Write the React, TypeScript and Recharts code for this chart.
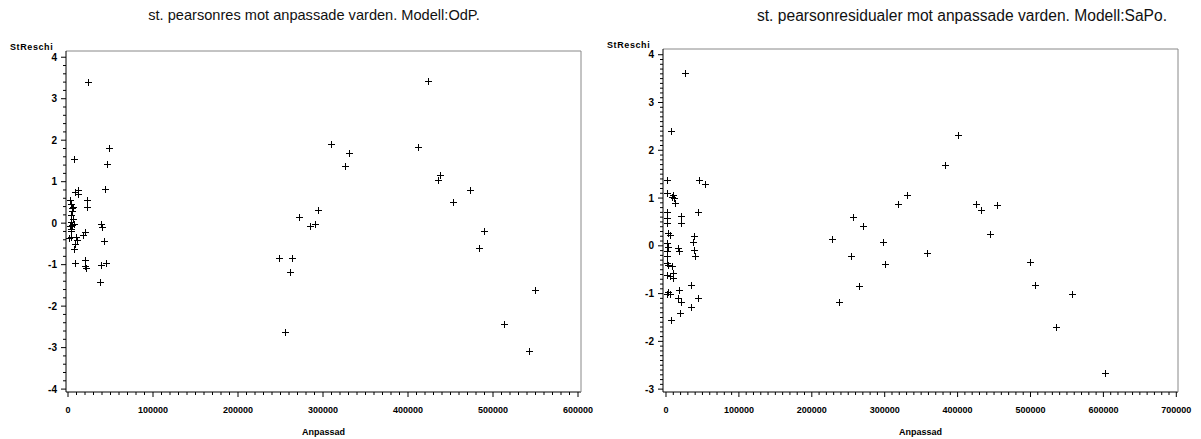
import React from 'react';
import { ScatterChart, Scatter, XAxis, YAxis } from 'recharts';

// ---- Data: left model (OdP) ----
const leftFitted = [
  2700, 3200, 4300, 4700, 3500, 5500, 3200, 7000, 2500, 4000, 3000, 3500, 9400, 11000, 8200, 7000, 7800, 1500, 5000, 6000,
  7600, 8600, 12100, 11800, 22000, 22000, 23900, 48600, 45900, 43500, 38800, 40400, 20400, 18000, 42700, 19600, 20000, 21200, 38500, 44700, 37600,
  423500, 309000, 330600, 326000, 411800, 438000, 435300, 473300, 453300, 489800, 483100, 549400, 513300, 542400,
  272100, 294500, 284300, 290600, 247800, 263500, 261600, 255300,
];
const leftResid = [
  0.55, 0.45, 0.37, 0.30, 0.20, 0.10, 0.03, -0.01, -0.08, -0.13, -0.18, -0.33, -0.34, -0.41, -0.51, -0.63, -0.95, -0.36, -0.05, 0.40,
  1.54, 0.74, 0.81, 0.70, 0.57, 0.39, 3.40, 1.81, 1.43, 0.83, -0.03, -0.10, -0.22, -0.28, -0.43, -0.88, -1.03, -1.07, -1.00, -0.97, -1.43,
  3.42, 1.92, 1.69, 1.37, 1.83, 1.17, 1.04, 0.79, 0.51, -0.19, -0.61, -1.62, -2.43, -3.08,
  0.15, 0.31, -0.08, -0.03, -0.84, -0.84, -1.18, -2.63,
];

// ---- Data: right model (SaPo) ----
const rightFitted = [
  25600, 6600, 1400, 45700, 53100, 1800, 10000, 11000, 8200, 11900, 43500, 2000, 2000, 2000, 21000, 21000, 3200, 6000, 38400, 36600,
  2000, 3200, 16000, 17800, 38800, 39800, 2000, 2000, 1000, 3200, 8400, 9200, 2000, 5500, 10000, 34700, 17800, 3200, 2000, 5000,
  16900, 20200, 43500, 33900, 19200, 6400,
  400500, 382700, 330600, 317800, 425700, 432100, 454500, 257000, 269800, 227700, 444400, 297200, 253300, 358500, 300400, 499800,
  264700, 505700, 237700, 556500, 535000, 602600,
];
const rightResid = [
  3.62, 2.40, 1.37, 1.37, 1.29, 1.10, 1.06, 1.00, 1.03, 0.89, 0.71, 0.70, 0.58, 0.48, 0.63, 0.48, 0.26, 0.22, 0.20, 0.07,
  0.06, -0.03, -0.04, -0.10, -0.08, -0.21, -0.10, -0.21, -0.36, -0.40, -0.43, -0.56, -0.61, -0.64, -0.68, -0.83, -0.93, -0.97, -1.00, -1.00,
  -1.10, -1.17, -1.10, -1.29, -1.40, -1.55,
  2.33, 1.70, 1.07, 0.88, 0.88, 0.76, 0.85, 0.60, 0.42, 0.15, 0.25, 0.07, -0.21, -0.15, -0.38, -0.34,
  -0.85, -0.83, -1.17, -1.01, -1.70, -2.66,
];

// ---- Tick labels ----
const leftXMajor = [0, 100000, 200000, 300000, 400000, 500000, 600000];
const leftYMajor = [-4, -3, -2, -1, 0, 1, 2, 3, 4];
const rightXMajor = [0, 100000, 200000, 300000, 400000, 500000, 600000, 700000];
const rightYMajor = [-3, -2, -1, 0, 1, 2, 3, 4];

const titles = [
  'st. pearsonres mot anpassade varden. Modell:OdP.',
  'st. pearsonresidualer mot anpassade varden. Modell:SaPo.',
];
const xLabel = 'Anpassad';
const yLabel = 'StReschi';

const withMinors = (majors: number[], n: number) => {
  const out: number[] = [];
  for (let i = 0; i < majors.length; i++) {
    out.push(majors[i]);
    if (i < majors.length - 1) {
      const step = (majors[i + 1] - majors[i]) / n;
      for (let k = 1; k < n; k++) out.push(+(majors[i] + k * step).toFixed(6));
    }
  }
  return out;
};

const isMajor = (v: number, majors: number[]) => majors.some((m) => Math.abs(m - v) < 1e-6);

const tickFont = 'Liberation Sans, Arial, sans-serif';

const makeXTick = (majors: number[]) => (props: any) => {
  const { x, y, payload } = props;
  const major = isMajor(payload.value, majors);
  return (
    <g>
      <line x1={x} x2={x} y1={y} y2={y + (major ? 5 : 3)} stroke="#000" strokeWidth={1} />
      {major && (
        <text x={x} y={y + 21} textAnchor="middle" fontSize={9} fontWeight="bold" fontFamily={tickFont} fill="#000">
          {payload.value}
        </text>
      )}
    </g>
  );
};

const makeYTick = (majors: number[]) => (props: any) => {
  const { x, y, payload } = props;
  const major = isMajor(payload.value, majors);
  return (
    <g>
      <line x1={x} x2={x - (major ? 5 : 3)} y1={y} y2={y} stroke="#000" strokeWidth={1} />
      {major && (
        <text x={x - 9} y={y + 3.5} textAnchor="end" fontSize={10} fontWeight="bold" fontFamily={tickFont} fill="#000">
          {payload.value}
        </text>
      )}
    </g>
  );
};

const Plus = (props: any) => {
  const { cx, cy } = props;
  if (cx == null || cy == null) return null;
  const x = Math.round(cx) + 0.5;
  const y = Math.round(cy) + 0.5;
  return <path d={`M${x - 3.5},${y}H${x + 3.5}M${x},${y - 3.5}V${y + 3.5}`} stroke="#000" strokeWidth={1} fill="none" />;
};

type PanelProps = {
  left: number;
  width: number;
  marginLeft: number;
  marginRight: number;
  marginTop: number;
  xs: number[];
  ys: number[];
  xDomain: [number, number];
  yDomain: [number, number];
  xMajor: number[];
  yMajor: number[];
  yMinorN: number;
};

const Panel = (p: PanelProps) => {
  const data = p.xs.map((x, i) => ({ x, y: p.ys[i] }));
  const xTicks = withMinors(p.xMajor, 10);
  const yTicks = withMinors(p.yMajor, p.yMinorN);
  return (
    <div style={{ position: 'absolute', left: p.left, top: 0 }}>
      <ScatterChart
        width={p.width}
        height={439}
        margin={{ top: p.marginTop - 1, right: p.marginRight - 1, bottom: 17, left: p.marginLeft }}
      >
        <XAxis
          xAxisId={0}
          type="number"
          dataKey="x"
          domain={p.xDomain}
          ticks={xTicks}
          interval={0}
          tickSize={0}
          tickMargin={0}
          tickLine={false}
          height={30}
          axisLine={{ stroke: '#000' }}
          tick={makeXTick(p.xMajor)}
          allowDataOverflow
          label={(lp: any) => {
            const vb = lp.viewBox || {};
            return (
              <text x={vb.x + vb.width / 2} y={vb.y + 43} textAnchor="middle" fontSize={9} fontWeight="bold" fontFamily={tickFont} fill="#000">
                {xLabel}
              </text>
            );
          }}
        />
        <XAxis
          xAxisId="top"
          orientation="top"
          type="number"
          dataKey="x"
          domain={p.xDomain}
          height={1}
          tick={false}
          tickLine={false}
          axisLine={{ stroke: '#888' }}
          allowDataOverflow
        />
        <YAxis
          yAxisId={0}
          type="number"
          dataKey="y"
          domain={p.yDomain}
          ticks={yTicks}
          interval={0}
          tickSize={0}
          tickMargin={0}
          tickLine={false}
          width={40}
          axisLine={{ stroke: '#000' }}
          tick={makeYTick(p.yMajor)}
          allowDataOverflow
          label={(lp: any) => {
            const vb = lp.viewBox || {};
            return (
              <text x={vb.x + vb.width - 56} y={vb.y - 1} textAnchor="start" fontSize={9} fontWeight="bold" fontFamily={tickFont} fill="#000" letterSpacing={0.6}>
                {yLabel}
              </text>
            );
          }}
        />
        <YAxis
          yAxisId="right"
          orientation="right"
          type="number"
          dataKey="y"
          domain={p.yDomain}
          width={1}
          tick={false}
          tickLine={false}
          axisLine={{ stroke: '#888' }}
          allowDataOverflow
        />
        <Scatter data={data} xAxisId={0} yAxisId={0} shape={Plus} isAnimationActive={false} />
      </ScatterChart>
    </div>
  );
};

const titleStyle: React.CSSProperties = {
  position: 'absolute',
  top: 7,
  fontFamily: 'Liberation Sans, Arial, sans-serif',
  fontSize: 15,
  color: '#111',
  whiteSpace: 'nowrap',
  transform: 'translateX(-50%)',
};

export default function App() {
  return (
    <div style={{ position: 'absolute', left: 0, top: 0, width: 1201, height: 439, background: '#fff', overflow: 'hidden' }}>
      <div style={{ ...titleStyle, left: 314, fontSize: 14.6 }}>{titles[0]}</div>
      <div style={{ ...titleStyle, left: 962, fontSize: 15.6 }}>{titles[1]}</div>
      <Panel
        left={0}
        width={600}
        marginLeft={26}
        marginRight={19}
        marginTop={51}
        xs={leftFitted}
        ys={leftResid}
        xDomain={[-2353, 603529]}
        yDomain={[-4.07, 4.15]}
        xMajor={leftXMajor}
        yMajor={leftYMajor}
        yMinorN={5}
      />
      <Panel
        left={600}
        width={601}
        marginLeft={23}
        marginRight={23}
        marginTop={49}
        xs={rightFitted}
        ys={rightResid}
        xDomain={[-4115, 702332]}
        yDomain={[-3.06, 4.12]}
        xMajor={rightXMajor}
        yMajor={rightYMajor}
        yMinorN={10}
      />
    </div>
  );
}
